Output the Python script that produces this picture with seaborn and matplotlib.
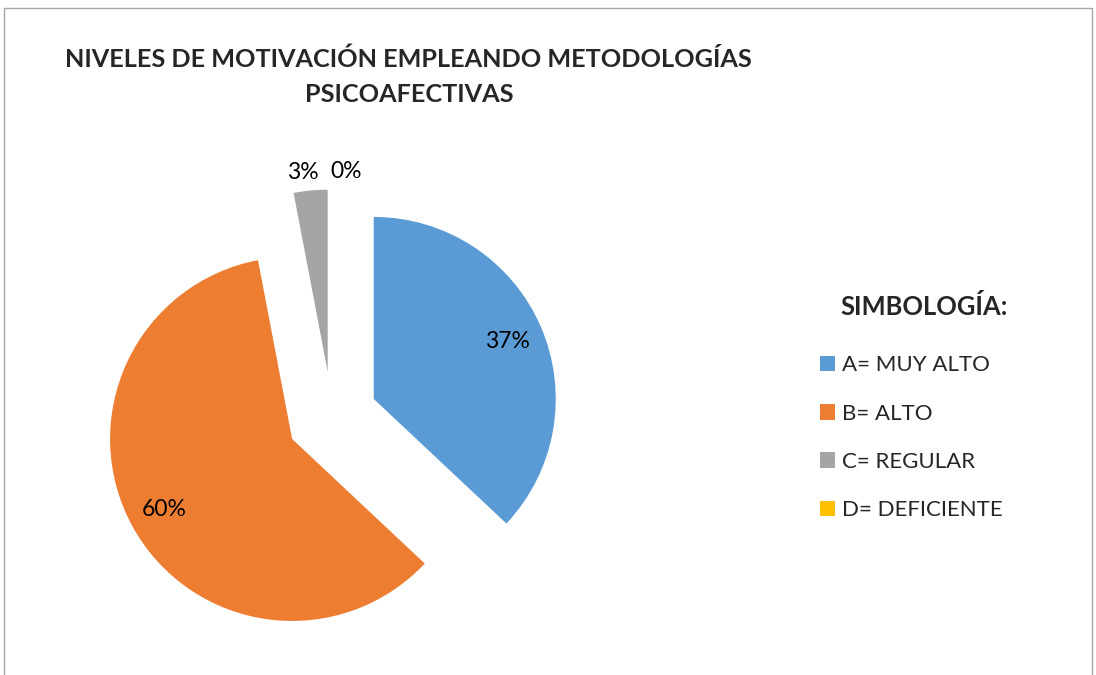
import matplotlib.pyplot as plt
import seaborn as sns
import numpy as np
from matplotlib.patches import Rectangle

# data
categories = ["A= MUY ALTO", "B= ALTO", "C= REGULAR", "D= DEFICIENTE"]
percentages = [37, 60, 3, 0]
colors = ["#5B9BD5", "#ED7D31", "#A5A5A5", "#FFC000"]
title = "NIVELES DE MOTIVACIÓN EMPLEANDO METODOLOGÍAS\nPSICOAFECTIVAS"
legend_title = "SIMBOLOGÍA:"

sns.set_theme(style="white")
plt.rcParams['font.family'] = ['Lato', 'DejaVu Sans']

fig = plt.figure(figsize=(10.96, 6.75), dpi=100)

# pie axes: radius 1 -> ~182 px
ax = fig.add_axes([0.0704, 0.0047, 0.465, 0.755])
palette = sns.color_palette(colors)
wedges, texts, autotexts = ax.pie(
    percentages,
    colors=palette,
    startangle=90,
    counterclock=False,
    explode=[0.25] * len(percentages),
    autopct=lambda p: f"{p:.0f}%",
    pctdistance=0.8,
    wedgeprops=dict(linewidth=0),
    textprops=dict(fontsize=16.5, color="#000000"),
)
ax.set_xlim(-1.4, 1.4)
ax.set_ylim(-1.4, 1.4)
ax.set_aspect("equal")
ax.axis("off")

# small slices: labels outside the wedge, like Excel's best fit
for w, t, p in zip(wedges, autotexts, percentages):
    if p < 10:
        mid = np.deg2rad((w.theta1 + w.theta2) / 2)
        cx, cy = w.center
        x = cx + 1.1 * w.r * np.cos(mid)
        y = cy + 1.1 * w.r * np.sin(mid)
        if p == 0:
            t.set_ha("left")
            x -= 0.01
        else:
            t.set_ha("right")
            x += 0.055
        t.set_position((x, y))
    t.set_clip_on(False)

fig.text(0.373, 0.886, title, ha="center", va="center", fontsize=18.2,
         fontweight="bold", linespacing=1.65)

fig.text(0.843, 0.546, legend_title, ha="center", va="center",
         fontsize=18.4, fontweight="bold")

leg = fig.legend(wedges, categories, loc="upper left",
                 bbox_to_anchor=(0.730, 0.503), frameon=False,
                 fontsize=16,
                 handlelength=0.68, handleheight=0.68, handletextpad=0.3,
                 labelspacing=1.27)

# chart-area border
fig.patches.append(Rectangle((4 / 1096, -0.05), 1088 / 1096, 1.05 - 8 / 675,
                             transform=fig.transFigure, fill=False,
                             edgecolor="#A6A6A6", linewidth=1))

fig.savefig("out.png", dpi=100)
